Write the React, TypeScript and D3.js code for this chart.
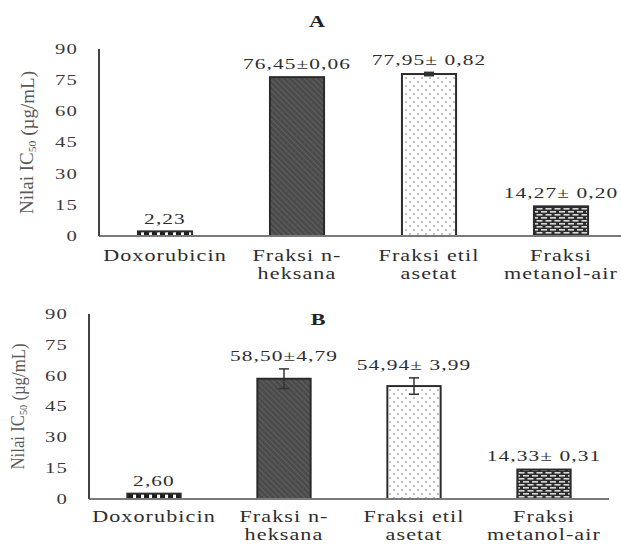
import React from 'react';
import { scaleBand, scaleLinear } from 'd3';

// categories shared by both panels
const categories = [
  ['Doxorubicin'],
  ['Fraksi n-', 'heksana'],
  ['Fraksi etil', 'asetat'],
  ['Fraksi', 'metanol-air'],
];
const yTicks = [0, 15, 30, 45, 60, 75, 90];

// panel A
const valuesA = [2.23, 76.45, 77.95, 14.27];
const errorsA = [0, 0.06, 0.82, 0.2];
const labelsA = ['2,23', '76,45\u00b10,06', '77,95\u00b1 0,82', '14,27\u00b1 0,20'];

// panel B
const valuesB = [2.6, 58.5, 54.94, 14.33];
const errorsB = [0, 4.79, 3.99, 0.31];
const labelsB = ['2,60', '58,50\u00b14,79', '54,94\u00b1 3,99', '14,33\u00b1 0,31'];

const patterns = ['patDox', 'patHex', 'patDots', 'patBrick'];
const SX = 1.38; // text in the source is stretched horizontally
const FONT = '"Liberation Serif", "DejaVu Serif", serif';

const Txt = ({ x, y, size, anchor = 'middle', weight = 'normal', fill = '#2d2d2d', spacing = 0.8, children }) => (
  <text
    transform={`translate(${x},${y}) scale(${SX},1)`}
    textAnchor={anchor}
    dominantBaseline="central"
    fontSize={size}
    fontWeight={weight}
    fill={fill}
    fontFamily={FONT}
    letterSpacing={spacing}
  >
    {children}
  </text>
);

const Panel = ({ title, values, errors, labels, left, right, top, bottom, titleX, titleY, yTitleX, yTitleLen, catY }) => {
  const x = scaleBand()
    .domain(categories.map((c) => c.join(' ')))
    .range([left, right])
    .paddingInner(0.59)
    .paddingOuter(0.295);
  const y = scaleLinear().domain([0, 90]).range([bottom, top]);
  const bw = x.bandwidth();

  return (
    <g>
      <Txt x={titleX} y={titleY} size={16} weight="bold" fill="#222" spacing={0}>{title}</Txt>

      {/* y axis title */}
      <text
        transform={`translate(${yTitleX},${(top + bottom) / 2}) scale(${SX},1) rotate(-90)`}
        textAnchor="middle"
        dominantBaseline="central"
        fontSize={13}
        fill="#595959"
        fontFamily={FONT}
        textLength={yTitleLen}
        lengthAdjust="spacingAndGlyphs"
      >
        Nilai IC<tspan fontSize={8} dy={3}>50</tspan>
        <tspan dy={-3}> (µg/mL)</tspan>
      </text>

      {yTicks.map((t) => (
        <Txt key={t} x={left - 21} y={y(t)} size={15} anchor="end" fill="#3a3a3a">{t}</Txt>
      ))}

      {values.map((v, i) => {
        const key = categories[i].join(' ');
        const bx = x(key);
        const cx = bx + bw / 2;
        const e = errors[i];
        return (
          <g key={key}>
            <rect
              x={bx}
              y={y(v)}
              width={bw}
              height={y(0) - y(v)}
              fill={`url(#${patterns[i]})`}
              stroke="#2b2b2b"
              strokeWidth={2}
            />
            {e > 0.5 && (
              <g stroke="#333" strokeWidth={1.5}>
                <line x1={cx} x2={cx} y1={y(v - e)} y2={y(v + e)} />
                <line x1={cx - 5} x2={cx + 5} y1={y(v + e)} y2={y(v + e)} />
                <line x1={cx - 5} x2={cx + 5} y1={y(v - e)} y2={y(v - e)} />
              </g>
            )}
            <Txt x={cx} y={y(v + e) - 13} size={15.5}>{labels[i]}</Txt>
            {categories[i].map((line, j) => (
              <Txt key={line} x={cx} y={catY + j * 18} size={16}>{line}</Txt>
            ))}
          </g>
        );
      })}

      <line x1={left} x2={right} y1={bottom} y2={bottom} stroke="#7a7a7a" strokeWidth={2} />
      <line x1={left} x2={left} y1={top} y2={bottom} stroke="#444" strokeWidth={2} />
    </g>
  );
};

export default function App() {
  return (
    <svg
      width={621}
      height={544}
      style={{ position: 'absolute', left: 0, top: 0, background: '#fff' }}
    >
      <defs>
        <pattern id="patDox" width={8} height={6} patternUnits="userSpaceOnUse">
          <rect width={8} height={6} fill="#fff" />
          <rect width={5} height={6} fill="#1e1e1e" />
        </pattern>
        <pattern id="patHex" width={4} height={4} patternUnits="userSpaceOnUse" patternTransform="rotate(45)">
          <rect width={4} height={4} fill="#4b4b4b" />
          <line x1={0} y1={0} x2={4} y2={0} stroke="#6e6e6e" strokeWidth={1.2} />
        </pattern>
        <pattern id="patDots" width={8} height={8} patternUnits="userSpaceOnUse">
          <rect width={8} height={8} fill="#fff" />
          <circle cx={2} cy={2} r={0.9} fill="#a5a5a5" />
          <circle cx={6} cy={6} r={0.9} fill="#a5a5a5" />
        </pattern>
        <pattern id="patBrick" width={9} height={6} patternUnits="userSpaceOnUse">
          <rect width={9} height={6} fill="#2e2e2e" />
          <rect x={1} y={1} width={6} height={1.6} fill="#d8d8d8" />
          <rect x={-3.5} y={4} width={6} height={1.6} fill="#d8d8d8" />
          <rect x={5.5} y={4} width={6} height={1.6} fill="#d8d8d8" />
        </pattern>
      </defs>
      <Panel
        title="A"
        values={valuesA}
        errors={errorsA}
        labels={labelsA}
        left={99}
        right={627}
        top={49}
        bottom={236}
        titleX={317}
        titleY={22}
        yTitleX={27}
        yTitleLen={143}
        catY={256}
      />
      <Panel
        title="B"
        values={valuesB}
        errors={errorsB}
        labels={labelsB}
        left={89}
        right={609}
        top={314}
        bottom={499}
        titleX={318}
        titleY={320}
        yTitleX={18}
        yTitleLen={126}
        catY={517}
      />
    </svg>
  );
}
